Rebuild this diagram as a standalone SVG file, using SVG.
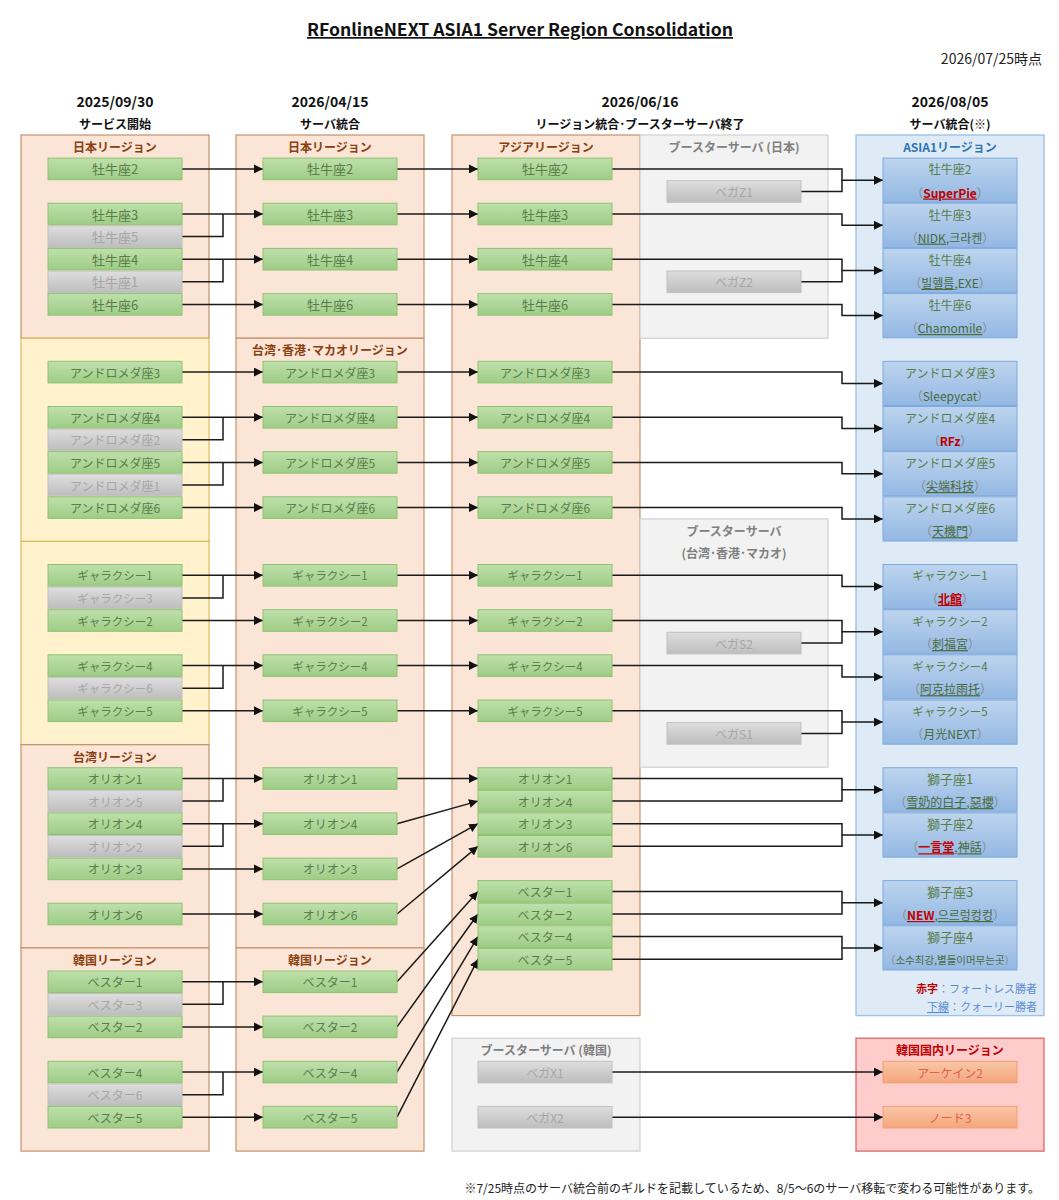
<svg xmlns="http://www.w3.org/2000/svg" width="1059" height="1200" viewBox="0 0 1059 1200">
<defs>
<linearGradient id="gG" x1="0" y1="0" x2="0" y2="1"><stop offset="0" stop-color="#bfe0ac"/><stop offset="1" stop-color="#9ecc86"/></linearGradient>
<linearGradient id="gX" x1="0" y1="0" x2="0" y2="1"><stop offset="0" stop-color="#dedede"/><stop offset="1" stop-color="#bdbdbd"/></linearGradient>
<linearGradient id="gB" x1="0" y1="0" x2="0" y2="1"><stop offset="0" stop-color="#bdd4ee"/><stop offset="1" stop-color="#93b8e3"/></linearGradient>
<linearGradient id="gO" x1="0" y1="0" x2="0" y2="1"><stop offset="0" stop-color="#f9c6a8"/><stop offset="1" stop-color="#f4a67c"/></linearGradient>
<marker id="ah" viewBox="0 0 10 10" refX="10" refY="5" markerWidth="9" markerHeight="9" markerUnits="userSpaceOnUse" orient="auto"><path d="M0,0 L10,5 L0,10 z" fill="#111"/></marker>
</defs>
<style>
text{font-family:"Noto Sans CJK JP","Noto Sans CJK KR","Noto Sans",sans-serif;}
.nd text{text-anchor:middle;dominant-baseline:central;font-size:12px;}
.k text{font-size:13px;}
.s text{font-size:11.5px;}
.g rect{fill:url(#gG);stroke:#8dc470;stroke-width:1;}
.g text{fill:#5a7d4a;}
.x rect{fill:url(#gX);stroke:#c0c0c0;stroke-width:1;}
.x text{fill:#a6a6a6;}
.b rect{fill:url(#gB);stroke:#7eaadd;stroke-width:1;}
.b text{fill:#5a7d4a;}
.b .gl{fill:#4a6a3a;}
.b .p{fill:#8a8a8a;}
.u{text-decoration:underline;}
.rd{fill:#c00000 !important;font-weight:bold;}
.o rect{fill:url(#gO);stroke:#f0a070;stroke-width:1;}
.o text{fill:#e0604a;}
.sal{fill:#fbe5d6;stroke:#c5916c;stroke-width:1.2;}
.yel{fill:#fff2cc;stroke:#dcbc60;stroke-width:1.2;}
.gry{fill:#f2f2f2;stroke:#d0d0d0;stroke-width:1.2;}
.blu{fill:#deebf7;stroke:#9dc3e6;stroke-width:1.4;}
.red{fill:#ffcccc;stroke:#e07070;stroke-width:1.4;}
.rt{font-weight:bold;font-size:12px;fill:#8a3f10;text-anchor:middle;dominant-baseline:central;}
.bt{font-weight:bold;font-size:12px;fill:#808080;text-anchor:middle;dominant-baseline:central;}
.hd{font-weight:bold;font-size:14px;fill:#111;text-anchor:middle;dominant-baseline:central;}
.hs{font-weight:bold;font-size:12px;fill:#111;text-anchor:middle;dominant-baseline:central;}
.ln{fill:none;stroke:#1a1a1a;stroke-width:1.5;}
.ar{marker-end:url(#ah);}
</style>
<rect x="0" y="0" width="1059" height="1200" fill="#ffffff"/>

<!-- title / headers -->
<g id="header">
<text x="520" y="36" font-family="'Noto Sans',sans-serif" font-weight="bold" font-size="17" text-anchor="middle" text-decoration="underline" textLength="426" lengthAdjust="spacingAndGlyphs" fill="#111">RFonlineNEXT ASIA1 Server Region Consolidation</text>
<text x="1042" y="58" font-size="14" text-anchor="end" dominant-baseline="central" fill="#222">2026/07/25時点</text>
<text class="hd" x="115" y="101">2025/09/30</text>
<text class="hs" x="115" y="123">サービス開始</text>
<text class="hd" x="330" y="101">2026/04/15</text>
<text class="hs" x="330" y="123">サーバ統合</text>
<text class="hd" x="640" y="101">2026/06/16</text>
<text class="hs" x="640" y="123">リージョン統合･ブースターサーバ終了</text>
<text class="hd" x="950" y="101">2026/08/05</text>
<text class="hs" x="950" y="123">サーバ統合(※)</text>
</g>

<!-- containers -->
<g id="regions">
<g id="c1-japan"><rect class="sal" x="21" y="135" width="188" height="203.2"/><text class="rt" x="115" y="146.3">日本リージョン</text></g>
<g id="c1-yellow-a"><rect class="yel" x="21" y="338.2" width="188" height="203.2"/></g>
<g id="c1-yellow-b"><rect class="yel" x="21" y="541.4" width="188" height="203.3"/></g>
<g id="c1-taiwan"><rect class="sal" x="21" y="744.7" width="188" height="203.2"/><text class="rt" x="115" y="756">台湾リージョン</text></g>
<g id="c1-korea"><rect class="sal" x="21" y="947.9" width="188" height="203.2"/><text class="rt" x="115" y="959.2">韓国リージョン</text></g>
<g id="c2-japan"><rect class="sal" x="236" y="135" width="188" height="203.2"/><text class="rt" x="330" y="146.3">日本リージョン</text></g>
<g id="c2-twhkmo"><rect class="sal" x="236" y="338.2" width="188" height="609.7"/><text class="rt" x="330" y="349.5">台湾･香港･マカオリージョン</text></g>
<g id="c2-korea"><rect class="sal" x="236" y="947.9" width="188" height="203.2"/><text class="rt" x="330" y="959.2">韓国リージョン</text></g>
<g id="c3-asia"><rect class="sal" x="452" y="135" width="188" height="880.6"/><text class="rt" x="546" y="146.3">アジアリージョン</text></g>
<g id="booster-jp"><rect class="gry" x="640" y="135" width="188" height="203.2"/><text class="bt" x="734" y="146.3">ブースターサーバ (日本)</text></g>
<g id="booster-tw"><rect class="gry" x="640" y="518.9" width="188" height="248.3"/><text class="bt" x="734" y="530.2">ブースターサーバ</text><text class="bt" x="734" y="552.7">(台湾･香港･マカオ)</text></g>
<g id="booster-kr"><rect class="gry" x="452" y="1038.2" width="188" height="112.9"/><text class="bt" x="546" y="1049.5">ブースターサーバ (韓国)</text></g>
<g id="c4-asia1"><rect class="blu" x="856" y="135" width="188" height="880.6"/><text class="rt" style="fill:#2e75b6" x="950" y="146.3">ASIA1リージョン</text></g>
<g id="c4-korea-domestic"><rect class="red" x="856" y="1038.2" width="188" height="112.9"/><text class="rt" style="fill:#c00000" x="950" y="1049.5">韓国国内リージョン</text></g>
</g>

<!-- connectors -->
<g id="connectors">
<path class="ln ar" d="M182,168.9H263"/>
<path class="ln ar" d="M182,214H263"/>
<path class="ln" d="M182,236.6H223V214"/>
<path class="ln ar" d="M182,259.2H263"/>
<path class="ln" d="M182,281.8H223V259.2"/>
<path class="ln ar" d="M182,304.4H263"/>
<path class="ln ar" d="M182,372.1H263"/>
<path class="ln ar" d="M182,417.3H263"/>
<path class="ln" d="M182,439.8H223V417.3"/>
<path class="ln ar" d="M182,462.4H263"/>
<path class="ln" d="M182,485H223V462.4"/>
<path class="ln ar" d="M182,507.6H263"/>
<path class="ln ar" d="M182,575.3H263"/>
<path class="ln" d="M182,597.9H223V575.3"/>
<path class="ln ar" d="M182,620.5H263"/>
<path class="ln ar" d="M182,665.6H263"/>
<path class="ln" d="M182,688.2H223V665.6"/>
<path class="ln ar" d="M182,710.8H263"/>
<path class="ln ar" d="M182,778.5H263"/>
<path class="ln" d="M182,801.1H223V778.5"/>
<path class="ln ar" d="M182,823.7H263"/>
<path class="ln" d="M182,846.3H223V823.7"/>
<path class="ln ar" d="M182,868.9H263"/>
<path class="ln ar" d="M182,914H263"/>
<path class="ln ar" d="M182,981.8H263"/>
<path class="ln" d="M182,1004.3H223V981.8"/>
<path class="ln ar" d="M182,1026.9H263"/>
<path class="ln ar" d="M182,1072.1H263"/>
<path class="ln" d="M182,1094.7H223V1072.1"/>
<path class="ln ar" d="M182,1117.2H263"/>

<path class="ln ar" d="M397,168.9H478"/>
<path class="ln ar" d="M397,214H478"/>
<path class="ln ar" d="M397,259.2H478"/>
<path class="ln ar" d="M397,304.4H478"/>
<path class="ln ar" d="M397,372.1H478"/>
<path class="ln ar" d="M397,417.3H478"/>
<path class="ln ar" d="M397,462.4H478"/>
<path class="ln ar" d="M397,507.6H478"/>
<path class="ln ar" d="M397,575.3H478"/>
<path class="ln ar" d="M397,620.5H478"/>
<path class="ln ar" d="M397,665.6H478"/>
<path class="ln ar" d="M397,710.8H478"/>
<path class="ln ar" d="M397,778.5H478"/>
<path class="ln ar" d="M397,823.7L478,801.1"/>
<path class="ln ar" d="M397,868.9L478,823.7"/>
<path class="ln ar" d="M397,914L478,846.3"/>
<path class="ln ar" d="M397,981.8L478,891.4"/>
<path class="ln ar" d="M397,1026.9L478,914"/>
<path class="ln ar" d="M397,1072.1L478,936.6"/>
<path class="ln ar" d="M397,1117.2L478,959.2"/>

<path class="ln ar" d="M612,168.9H842V180.2H883"/>
<path class="ln" d="M801,191.5H842V180.2"/>
<path class="ln ar" d="M612,214H842V225.3H883"/>
<path class="ln ar" d="M612,259.2H842V270.5H883"/>
<path class="ln" d="M801,281.8H842V270.5"/>
<path class="ln ar" d="M612,304.4H842V315.6H883"/>
<path class="ln ar" d="M612,372.1H842V383.4H883"/>
<path class="ln ar" d="M612,417.3H842V428.5H883"/>
<path class="ln ar" d="M612,462.4H842V473.7H883"/>
<path class="ln ar" d="M612,507.6H842V518.9H883"/>
<path class="ln ar" d="M612,575.3H842V586.6H883"/>
<path class="ln ar" d="M612,620.5H842V631.8H883"/>
<path class="ln" d="M801,643.1H842V631.8"/>
<path class="ln ar" d="M612,665.6H842V676.9H883"/>
<path class="ln ar" d="M612,710.8H842V722.1H883"/>
<path class="ln" d="M801,733.4H842V722.1"/>
<path class="ln ar" d="M612,778.5H842V789.8H883"/>
<path class="ln" d="M612,801.1H842V789.8"/>
<path class="ln ar" d="M612,823.7H842V835H883"/>
<path class="ln" d="M612,846.3H842V835"/>
<path class="ln ar" d="M612,891.4H842V902.7H883"/>
<path class="ln" d="M612,914H842V902.7"/>
<path class="ln ar" d="M612,936.6H842V947.9H883"/>
<path class="ln" d="M612,959.2H842V947.9"/>
<path class="ln ar" d="M612,1072.1H883"/>
<path class="ln ar" d="M612,1117.2H883"/>
</g>

<!-- column 1 nodes -->
<g id="col1">
<g id="c1-taurus2" class="nd g k"><rect x="48" y="158.1" width="134" height="21.6"/><text x="115" y="168.9">牡牛座2</text></g>
<g id="c1-taurus3" class="nd g k"><rect x="48" y="203.2" width="134" height="21.6"/><text x="115" y="214">牡牛座3</text></g>
<g id="c1-taurus5" class="nd x k"><rect x="48" y="225.8" width="134" height="21.6"/><text x="115" y="236.6">牡牛座5</text></g>
<g id="c1-taurus4" class="nd g k"><rect x="48" y="248.4" width="134" height="21.6"/><text x="115" y="259.2">牡牛座4</text></g>
<g id="c1-taurus1" class="nd x k"><rect x="48" y="271" width="134" height="21.6"/><text x="115" y="281.8">牡牛座1</text></g>
<g id="c1-taurus6" class="nd g k"><rect x="48" y="293.6" width="134" height="21.6"/><text x="115" y="304.4">牡牛座6</text></g>
<g id="c1-andromeda3" class="nd g"><rect x="48" y="361.3" width="134" height="21.6"/><text x="115" y="372.1">アンドロメダ座3</text></g>
<g id="c1-andromeda4" class="nd g"><rect x="48" y="406.5" width="134" height="21.6"/><text x="115" y="417.3">アンドロメダ座4</text></g>
<g id="c1-andromeda2" class="nd x"><rect x="48" y="429" width="134" height="21.6"/><text x="115" y="439.8">アンドロメダ座2</text></g>
<g id="c1-andromeda5" class="nd g"><rect x="48" y="451.6" width="134" height="21.6"/><text x="115" y="462.4">アンドロメダ座5</text></g>
<g id="c1-andromeda1" class="nd x"><rect x="48" y="474.2" width="134" height="21.6"/><text x="115" y="485">アンドロメダ座1</text></g>
<g id="c1-andromeda6" class="nd g"><rect x="48" y="496.8" width="134" height="21.6"/><text x="115" y="507.6">アンドロメダ座6</text></g>
<g id="c1-galaxy1" class="nd g s"><rect x="48" y="564.5" width="134" height="21.6"/><text x="115" y="575.3">ギャラクシー1</text></g>
<g id="c1-galaxy3" class="nd x s"><rect x="48" y="587.1" width="134" height="21.6"/><text x="115" y="597.9">ギャラクシー3</text></g>
<g id="c1-galaxy2" class="nd g s"><rect x="48" y="609.7" width="134" height="21.6"/><text x="115" y="620.5">ギャラクシー2</text></g>
<g id="c1-galaxy4" class="nd g s"><rect x="48" y="654.8" width="134" height="21.6"/><text x="115" y="665.6">ギャラクシー4</text></g>
<g id="c1-galaxy6" class="nd x s"><rect x="48" y="677.4" width="134" height="21.6"/><text x="115" y="688.2">ギャラクシー6</text></g>
<g id="c1-galaxy5" class="nd g s"><rect x="48" y="700" width="134" height="21.6"/><text x="115" y="710.8">ギャラクシー5</text></g>
<g id="c1-orion1" class="nd g"><rect x="48" y="767.7" width="134" height="21.6"/><text x="115" y="778.5">オリオン1</text></g>
<g id="c1-orion5" class="nd x"><rect x="48" y="790.3" width="134" height="21.6"/><text x="115" y="801.1">オリオン5</text></g>
<g id="c1-orion4" class="nd g"><rect x="48" y="812.9" width="134" height="21.6"/><text x="115" y="823.7">オリオン4</text></g>
<g id="c1-orion2" class="nd x"><rect x="48" y="835.5" width="134" height="21.6"/><text x="115" y="846.3">オリオン2</text></g>
<g id="c1-orion3" class="nd g"><rect x="48" y="858.1" width="134" height="21.6"/><text x="115" y="868.9">オリオン3</text></g>
<g id="c1-orion6" class="nd g"><rect x="48" y="903.2" width="134" height="21.6"/><text x="115" y="914">オリオン6</text></g>
<g id="c1-vester1" class="nd g"><rect x="48" y="971" width="134" height="21.6"/><text x="115" y="981.8">ベスター1</text></g>
<g id="c1-vester3" class="nd x"><rect x="48" y="993.5" width="134" height="21.6"/><text x="115" y="1004.3">ベスター3</text></g>
<g id="c1-vester2" class="nd g"><rect x="48" y="1016.1" width="134" height="21.6"/><text x="115" y="1026.9">ベスター2</text></g>
<g id="c1-vester4" class="nd g"><rect x="48" y="1061.3" width="134" height="21.6"/><text x="115" y="1072.1">ベスター4</text></g>
<g id="c1-vester6" class="nd x"><rect x="48" y="1083.9" width="134" height="21.6"/><text x="115" y="1094.7">ベスター6</text></g>
<g id="c1-vester5" class="nd g"><rect x="48" y="1106.4" width="134" height="21.6"/><text x="115" y="1117.2">ベスター5</text></g>
</g>

<!-- column 2 nodes -->
<g id="col2">
<g id="c2-taurus2" class="nd g k"><rect x="263" y="158.1" width="134" height="21.6"/><text x="330" y="168.9">牡牛座2</text></g>
<g id="c2-taurus3" class="nd g k"><rect x="263" y="203.2" width="134" height="21.6"/><text x="330" y="214">牡牛座3</text></g>
<g id="c2-taurus4" class="nd g k"><rect x="263" y="248.4" width="134" height="21.6"/><text x="330" y="259.2">牡牛座4</text></g>
<g id="c2-taurus6" class="nd g k"><rect x="263" y="293.6" width="134" height="21.6"/><text x="330" y="304.4">牡牛座6</text></g>
<g id="c2-andromeda3" class="nd g"><rect x="263" y="361.3" width="134" height="21.6"/><text x="330" y="372.1">アンドロメダ座3</text></g>
<g id="c2-andromeda4" class="nd g"><rect x="263" y="406.5" width="134" height="21.6"/><text x="330" y="417.3">アンドロメダ座4</text></g>
<g id="c2-andromeda5" class="nd g"><rect x="263" y="451.6" width="134" height="21.6"/><text x="330" y="462.4">アンドロメダ座5</text></g>
<g id="c2-andromeda6" class="nd g"><rect x="263" y="496.8" width="134" height="21.6"/><text x="330" y="507.6">アンドロメダ座6</text></g>
<g id="c2-galaxy1" class="nd g s"><rect x="263" y="564.5" width="134" height="21.6"/><text x="330" y="575.3">ギャラクシー1</text></g>
<g id="c2-galaxy2" class="nd g s"><rect x="263" y="609.7" width="134" height="21.6"/><text x="330" y="620.5">ギャラクシー2</text></g>
<g id="c2-galaxy4" class="nd g s"><rect x="263" y="654.8" width="134" height="21.6"/><text x="330" y="665.6">ギャラクシー4</text></g>
<g id="c2-galaxy5" class="nd g s"><rect x="263" y="700" width="134" height="21.6"/><text x="330" y="710.8">ギャラクシー5</text></g>
<g id="c2-orion1" class="nd g"><rect x="263" y="767.7" width="134" height="21.6"/><text x="330" y="778.5">オリオン1</text></g>
<g id="c2-orion4" class="nd g"><rect x="263" y="812.9" width="134" height="21.6"/><text x="330" y="823.7">オリオン4</text></g>
<g id="c2-orion3" class="nd g"><rect x="263" y="858.1" width="134" height="21.6"/><text x="330" y="868.9">オリオン3</text></g>
<g id="c2-orion6" class="nd g"><rect x="263" y="903.2" width="134" height="21.6"/><text x="330" y="914">オリオン6</text></g>
<g id="c2-vester1" class="nd g"><rect x="263" y="971" width="134" height="21.6"/><text x="330" y="981.8">ベスター1</text></g>
<g id="c2-vester2" class="nd g"><rect x="263" y="1016.1" width="134" height="21.6"/><text x="330" y="1026.9">ベスター2</text></g>
<g id="c2-vester4" class="nd g"><rect x="263" y="1061.3" width="134" height="21.6"/><text x="330" y="1072.1">ベスター4</text></g>
<g id="c2-vester5" class="nd g"><rect x="263" y="1106.4" width="134" height="21.6"/><text x="330" y="1117.2">ベスター5</text></g>
</g>

<!-- column 3 nodes -->
<g id="col3">
<g id="c3-taurus2" class="nd g k"><rect x="478" y="158.1" width="134" height="21.6"/><text x="545" y="168.9">牡牛座2</text></g>
<g id="c3-taurus3" class="nd g k"><rect x="478" y="203.2" width="134" height="21.6"/><text x="545" y="214">牡牛座3</text></g>
<g id="c3-taurus4" class="nd g k"><rect x="478" y="248.4" width="134" height="21.6"/><text x="545" y="259.2">牡牛座4</text></g>
<g id="c3-taurus6" class="nd g k"><rect x="478" y="293.6" width="134" height="21.6"/><text x="545" y="304.4">牡牛座6</text></g>
<g id="c3-andromeda3" class="nd g"><rect x="478" y="361.3" width="134" height="21.6"/><text x="545" y="372.1">アンドロメダ座3</text></g>
<g id="c3-andromeda4" class="nd g"><rect x="478" y="406.5" width="134" height="21.6"/><text x="545" y="417.3">アンドロメダ座4</text></g>
<g id="c3-andromeda5" class="nd g"><rect x="478" y="451.6" width="134" height="21.6"/><text x="545" y="462.4">アンドロメダ座5</text></g>
<g id="c3-andromeda6" class="nd g"><rect x="478" y="496.8" width="134" height="21.6"/><text x="545" y="507.6">アンドロメダ座6</text></g>
<g id="c3-galaxy1" class="nd g s"><rect x="478" y="564.5" width="134" height="21.6"/><text x="545" y="575.3">ギャラクシー1</text></g>
<g id="c3-galaxy2" class="nd g s"><rect x="478" y="609.7" width="134" height="21.6"/><text x="545" y="620.5">ギャラクシー2</text></g>
<g id="c3-galaxy4" class="nd g s"><rect x="478" y="654.8" width="134" height="21.6"/><text x="545" y="665.6">ギャラクシー4</text></g>
<g id="c3-galaxy5" class="nd g s"><rect x="478" y="700" width="134" height="21.6"/><text x="545" y="710.8">ギャラクシー5</text></g>
<g id="c3-orion1" class="nd g"><rect x="478" y="767.7" width="134" height="21.6"/><text x="545" y="778.5">オリオン1</text></g>
<g id="c3-orion4" class="nd g"><rect x="478" y="790.3" width="134" height="21.6"/><text x="545" y="801.1">オリオン4</text></g>
<g id="c3-orion3" class="nd g"><rect x="478" y="812.9" width="134" height="21.6"/><text x="545" y="823.7">オリオン3</text></g>
<g id="c3-orion6" class="nd g"><rect x="478" y="835.5" width="134" height="21.6"/><text x="545" y="846.3">オリオン6</text></g>
<g id="c3-vester1" class="nd g"><rect x="478" y="880.6" width="134" height="21.6"/><text x="545" y="891.4">ベスター1</text></g>
<g id="c3-vester2" class="nd g"><rect x="478" y="903.2" width="134" height="21.6"/><text x="545" y="914">ベスター2</text></g>
<g id="c3-vester4" class="nd g"><rect x="478" y="925.8" width="134" height="21.6"/><text x="545" y="936.6">ベスター4</text></g>
<g id="c3-vester5" class="nd g"><rect x="478" y="948.4" width="134" height="21.6"/><text x="545" y="959.2">ベスター5</text></g>
<g id="b-vegaZ1" class="nd x"><rect x="667" y="180.7" width="134" height="21.6"/><text x="734" y="191.5">ベガZ1</text></g>
<g id="b-vegaZ2" class="nd x"><rect x="667" y="271" width="134" height="21.6"/><text x="734" y="281.8">ベガZ2</text></g>
<g id="b-vegaS2" class="nd x"><rect x="667" y="632.3" width="134" height="21.6"/><text x="734" y="643.1">ベガS2</text></g>
<g id="b-vegaS1" class="nd x"><rect x="667" y="722.6" width="134" height="21.6"/><text x="734" y="733.4">ベガS1</text></g>
<g id="b-vegaX1" class="nd x"><rect x="478" y="1061.3" width="134" height="21.6"/><text x="545" y="1072.1">ベガX1</text></g>
<g id="b-vegaX2" class="nd x"><rect x="478" y="1106.4" width="134" height="21.6"/><text x="545" y="1117.2">ベガX2</text></g>
</g>

<!-- column 4 nodes -->
<g id="col4">
<g id="c4-taurus2" class="nd b"><rect x="883" y="158.1" width="134" height="44.2"/><text x="950" y="168.9">牡牛座2</text><text x="950" y="191.5"><tspan class="p">（</tspan><tspan class="rd u">SuperPie</tspan><tspan class="p">）</tspan></text></g>
<g id="c4-taurus3" class="nd b"><rect x="883" y="203.2" width="134" height="44.2"/><text x="950" y="214">牡牛座3</text><text x="950" y="236.6"><tspan class="p">（</tspan><tspan class="gl u">NIDK</tspan><tspan class="gl">,크라켄</tspan><tspan class="p">）</tspan></text></g>
<g id="c4-taurus4" class="nd b"><rect x="883" y="248.4" width="134" height="44.2"/><text x="950" y="259.2">牡牛座4</text><text x="950" y="281.8"><tspan class="p">（</tspan><tspan class="gl u">빌헬름</tspan><tspan class="gl">,EXE</tspan><tspan class="p">）</tspan></text></g>
<g id="c4-taurus6" class="nd b"><rect x="883" y="293.6" width="134" height="44.2"/><text x="950" y="304.4">牡牛座6</text><text x="950" y="327"><tspan class="p">（</tspan><tspan class="gl u">Chamomile</tspan><tspan class="p">）</tspan></text></g>
<g id="c4-andromeda3" class="nd b"><rect x="883" y="361.3" width="134" height="44.2"/><text x="950" y="372.1">アンドロメダ座3</text><text x="950" y="394.7"><tspan class="p">（</tspan><tspan class="gl">Sleepycat</tspan><tspan class="p">）</tspan></text></g>
<g id="c4-andromeda4" class="nd b"><rect x="883" y="406.5" width="134" height="44.2"/><text x="950" y="417.3">アンドロメダ座4</text><text x="950" y="439.8"><tspan class="p">（</tspan><tspan class="rd">RFz</tspan><tspan class="p">）</tspan></text></g>
<g id="c4-andromeda5" class="nd b"><rect x="883" y="451.6" width="134" height="44.2"/><text x="950" y="462.4">アンドロメダ座5</text><text x="950" y="485"><tspan class="p">（</tspan><tspan class="gl u">尖端科技</tspan><tspan class="p">）</tspan></text></g>
<g id="c4-andromeda6" class="nd b"><rect x="883" y="496.8" width="134" height="44.2"/><text x="950" y="507.6">アンドロメダ座6</text><text x="950" y="530.2"><tspan class="p">（</tspan><tspan class="gl u">天機門</tspan><tspan class="p">）</tspan></text></g>
<g id="c4-galaxy1" class="nd b"><rect x="883" y="564.5" width="134" height="44.2"/><text x="950" y="575.3" style="font-size:11.5px">ギャラクシー1</text><text x="950" y="597.9"><tspan class="p">（</tspan><tspan class="rd u">北館</tspan><tspan class="p">）</tspan></text></g>
<g id="c4-galaxy2" class="nd b"><rect x="883" y="609.7" width="134" height="44.2"/><text x="950" y="620.5" style="font-size:11.5px">ギャラクシー2</text><text x="950" y="643.1"><tspan class="p">（</tspan><tspan class="gl u">刺福宮</tspan><tspan class="p">）</tspan></text></g>
<g id="c4-galaxy4" class="nd b"><rect x="883" y="654.8" width="134" height="44.2"/><text x="950" y="665.6" style="font-size:11.5px">ギャラクシー4</text><text x="950" y="688.2"><tspan class="p">（</tspan><tspan class="gl u">阿克拉雨托</tspan><tspan class="p">）</tspan></text></g>
<g id="c4-galaxy5" class="nd b"><rect x="883" y="700" width="134" height="44.2"/><text x="950" y="710.8" style="font-size:11.5px">ギャラクシー5</text><text x="950" y="733.4"><tspan class="p">（</tspan><tspan class="gl">月光NEXT</tspan><tspan class="p">）</tspan></text></g>
<g id="c4-leo1" class="nd b k"><rect x="883" y="767.7" width="134" height="44.2"/><text x="950" y="778.5">獅子座1</text><text x="950" y="801.1" style="font-size:12px"><tspan class="p">（</tspan><tspan class="gl u">雪奶的白子</tspan><tspan class="gl">,</tspan><tspan class="gl u">惡櫻</tspan><tspan class="p">）</tspan></text></g>
<g id="c4-leo2" class="nd b k"><rect x="883" y="812.9" width="134" height="44.2"/><text x="950" y="823.7">獅子座2</text><text x="950" y="846.3" style="font-size:12px"><tspan class="p">（</tspan><tspan class="rd u">一言堂</tspan><tspan class="gl">,</tspan><tspan class="gl u">神話</tspan><tspan class="p">）</tspan></text></g>
<g id="c4-leo3" class="nd b k"><rect x="883" y="880.6" width="134" height="44.2"/><text x="950" y="891.4">獅子座3</text><text x="950" y="914" style="font-size:12px"><tspan class="p">（</tspan><tspan class="rd u">NEW</tspan><tspan class="gl">,</tspan><tspan class="gl u">으르렁컹컹</tspan><tspan class="p">）</tspan></text></g>
<g id="c4-leo4" class="nd b k"><rect x="883" y="925.8" width="134" height="44.2"/><text x="950" y="936.6">獅子座4</text><text x="950" y="959.2" style="font-size:10.5px"><tspan class="p">（</tspan><tspan class="gl">소수최강,별들이머무는곳</tspan><tspan class="p">）</tspan></text></g>
<g id="legend">
<text x="1037" y="988" font-size="11" text-anchor="end" dominant-baseline="central" fill="#5b8bd0"><tspan fill="#c00000" font-weight="bold">赤字</tspan>：フォートレス勝者</text>
<text x="1037" y="1006" font-size="11" text-anchor="end" dominant-baseline="central" fill="#5b8bd0"><tspan text-decoration="underline">下線</tspan>：クォーリー勝者</text>
</g>
<g id="k-arcane2" class="nd o"><rect x="883" y="1061.3" width="134" height="21.6"/><text x="950" y="1072.1">アーケイン2</text></g>
<g id="k-node3" class="nd o"><rect x="883" y="1106.4" width="134" height="21.6"/><text x="950" y="1117.2">ノード3</text></g>
</g>

<text id="footnote" x="1040" y="1187" font-size="12" text-anchor="end" dominant-baseline="central" fill="#222">※7/25時点のサーバ統合前のギルドを記載しているため、8/5～6のサーバ移転で変わる可能性があります。</text>
</svg>
